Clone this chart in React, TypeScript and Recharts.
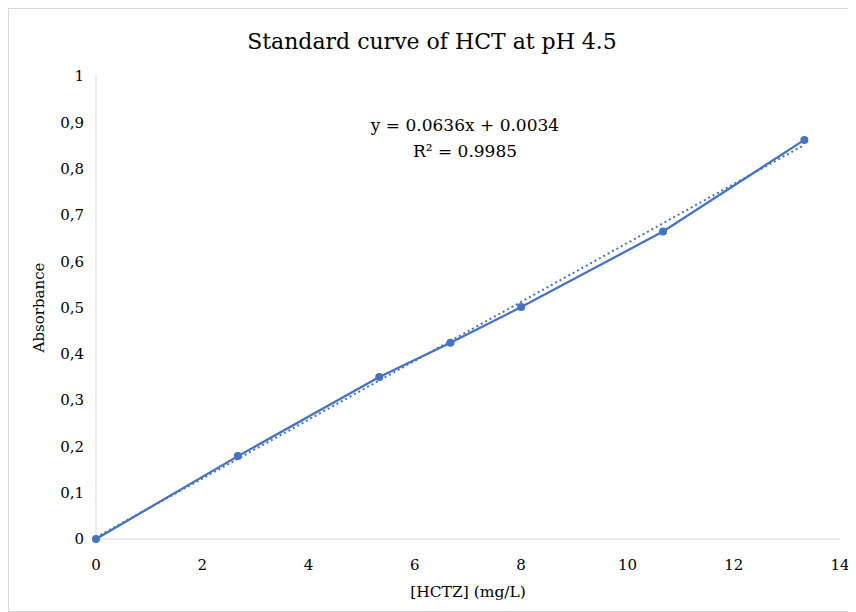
import React from "react";
import { ComposedChart, Line, XAxis, YAxis, Label } from "recharts";

const concentrations = [0, 2.67, 5.33, 6.67, 8, 10.67, 13.33];
const absorbance = [0, 0.179, 0.35, 0.424, 0.501, 0.664, 0.862];
const trendX = [0, 13.33];
const trendY = [0.0034, 0.8512];
const xTicks = [0, 2, 4, 6, 8, 10, 12, 14];
const yTicks = [0, 0.1, 0.2, 0.3, 0.4, 0.5, 0.6, 0.7, 0.8, 0.9, 1];
const titleText = "Standard curve of HCT at pH 4.5";
const equationText = "y = 0.0636x + 0.0034";
const r2Text = "R² = 0.9985";

const measured = concentrations.map((x, i) => ({ x, y: absorbance[i] }));
const trend = trendX.map((x, i) => ({ x, t: trendY[i] }));

const font = "DejaVu Serif, Noto Serif, serif";
const blue = "#4472C4";

export default function App() {
  return (
    <div
      style={{
        position: "relative",
        width: 848,
        height: 604,
        border: "1px solid #d9d9d9",
        boxSizing: "border-box",
        fontFamily: font,
        background: "#fff",
      }}
    >
      <ComposedChart
        width={846}
        height={602}
        margin={{ top: 67, right: 15, bottom: 10, left: 0 }}
        style={{ fontFamily: font }}
      >
        <XAxis
          type="number"
          dataKey="x"
          domain={[0, 14]}
          ticks={xTicks}
          tickLine={false}
          axisLine={{ stroke: "#d9d9d9" }}
          tick={{ fill: "#000", fontSize: 15, fontFamily: font }}
          tickMargin={14}
          height={62}
        >
          <Label
            value="[HCTZ] (mg/L)"
            position="insideBottom"
            offset={4}
            style={{ fill: "#000", fontSize: 15.5, fontFamily: font }}
          />
        </XAxis>
        <YAxis
          type="number"
          domain={[0, 1]}
          ticks={yTicks}
          tickLine={false}
          axisLine={{ stroke: "#d9d9d9" }}
          tick={{ fill: "#000", fontSize: 15, fontFamily: font }}
          tickFormatter={(v: number) => String(v).replace(".", ",")}
          tickMargin={6}
          width={87}
        >
          <Label
            value="Absorbance"
            angle={-90}
            position="insideLeft"
            offset={30}
            style={{ fill: "#000", fontSize: 15, fontFamily: font, textAnchor: "middle" }}
          />
        </YAxis>
        <Line
          data={trend}
          dataKey="t"
          type="linear"
          stroke={blue}
          strokeWidth={2}
          strokeDasharray="2 3"
          dot={false}
          activeDot={false}
          isAnimationActive={false}
        />
        <Line
          data={measured}
          dataKey="y"
          type="linear"
          stroke={blue}
          strokeWidth={2.25}
          dot={{ r: 4, fill: blue, stroke: blue, strokeWidth: 0 }}
          activeDot={false}
          isAnimationActive={false}
        />
      </ComposedChart>
      <div
        style={{
          position: "absolute",
          left: 0,
          width: 846,
          top: 18,
          textAlign: "center",
          fontSize: 22,
          color: "#000",
          lineHeight: "30px",
        }}
      >
        {titleText}
      </div>
      <div
        style={{
          position: "absolute",
          left: 331,
          width: 250,
          top: 103,
          textAlign: "center",
          fontSize: 17,
          color: "#000",
          lineHeight: "26px",
        }}
      >
        <div>{equationText}</div>
        <div>{r2Text}</div>
      </div>
    </div>
  );
}
